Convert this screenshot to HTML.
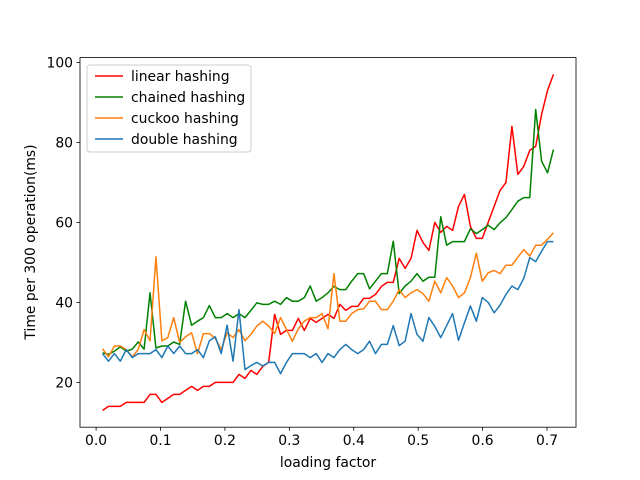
<!DOCTYPE html>
<html><head><meta charset="utf-8"><style>
body{margin:0;background:#fff;}
svg{display:block;font-family:"DejaVu Sans","Liberation Sans",sans-serif;}
</style></head><body>
<svg id="chart" width="640" height="480" viewBox="0 0 640 480" xmlns="http://www.w3.org/2000/svg">
<rect width="640" height="480" fill="#fff"/>
<g id="plot"></g>
<rect x="80" y="57.6" width="496" height="369.6" fill="none" stroke="#000" stroke-width="0.8"/>
<g id="ticks"></g>
<text x="328" y="467" font-size="13.9" text-anchor="middle">loading factor</text>
<text transform="translate(35,242) rotate(-90)" font-size="13.9" text-anchor="middle">Time per 300 operation(ms)</text>
<g id="legend"></g>
</svg>
<script>
const xs=[0.01,0.0192,0.0284,0.0376,0.0468,0.0561,0.0653,0.0745,0.0837,0.0929,0.1021,0.1113,0.1205,0.1297,0.1389,0.1482,0.1574,0.1666,0.1758,0.185,0.1942,0.2034,0.2126,0.2218,0.2311,0.2403,0.2495,0.2587,0.2679,0.2771,0.2863,0.2955,0.3047,0.3139,0.3232,0.3324,0.3416,0.3508,0.36,0.3692,0.3784,0.3876,0.3968,0.4061,0.4153,0.4245,0.4337,0.4429,0.4521,0.4613,0.4705,0.4797,0.4889,0.4982,0.5074,0.5166,0.5258,0.535,0.5442,0.5534,0.5626,0.5718,0.5811,0.5903,0.5995,0.6087,0.6179,0.6271,0.6363,0.6455,0.6547,0.6639,0.6732,0.6824,0.6916,0.7008,0.71];
const linear=[13,14,14,14,15,15,15,15,17,17,15,16,17,17,18,19,18,19,19,20,20,20,20,22,21,23,22,24,25,37,32,33,33,36,33,36,35,36,37,36,39.5,38,39,39,41,41,42,44,45,45,51,48.5,51,58,55,53,60,57.5,59,58,64,67,59,56,56,60,64,68,70,84,72,74,78,79,87,93,97];
const chained=[27.4,27,27.8,28.9,27.8,28.3,30.1,28.3,42.4,28.6,29.1,29.1,30.1,29.5,40.3,34.3,35.3,36.2,39.2,36.2,36.2,37.2,36.2,37.2,36.2,38,39.9,39.5,39.5,40.3,39.5,41.2,40.3,40.3,41.2,44.1,40.3,41.2,42.4,44,43.2,43.2,45.3,47.2,47.2,43.4,45.3,47.2,47.2,55.3,42.2,44.1,45.3,47.2,45.3,46.3,46.3,61.4,54.3,55.2,55.2,55.2,58.4,57.2,58.2,59.3,58.2,59.9,61.2,63.2,65.3,66.2,66.2,88.2,75.3,72.4,78.2];
const cuckoo=[28.4,26.4,29.1,29.1,28.2,26.4,28.2,33.2,30.4,51.4,30.4,31.2,36.2,30,31.4,32.4,27.2,32.2,32.2,31,28.2,32.4,31.2,33.2,30.4,32,34.1,35.3,34.1,32.2,36.2,33.2,30.3,33.4,35.3,36.2,36.2,37.2,33.4,47.2,35.3,35.3,37.2,38.2,38.4,40.3,40.3,38.2,38.2,40.3,43.2,41.2,42.4,43.2,42.2,40.3,45.3,42.4,46.2,44.1,41.2,42.4,46.2,52.3,45.3,47.4,48,47.2,49.3,49.3,51.3,53.2,51.6,54.3,54.3,55.8,57.4];
const dbl=[27.2,25.3,27.2,25.3,28.2,26.2,27.2,27.2,27.2,28.2,26.2,29.1,27.2,29.1,27.2,27.2,28.2,26.2,30.4,31.4,27.2,34.3,25.3,38.2,23.2,24.2,25,24.1,25,25,22.2,25,27.2,27.2,27.2,26.2,27.2,25,27.2,26.2,28.2,29.5,28.2,27.2,28.2,30.3,27.2,29.5,29.5,34.2,29.2,30.3,37.2,32,30.3,36.2,34,31.2,34.2,37.2,30.5,34.9,39.1,35.3,41.2,40,37.4,39.3,42,44.1,43.2,46,51.2,50.2,52.8,55.2,55.2];
const seriesNames=["linear hashing","chained hashing","cuckoo hashing","double hashing"];
const xTicks=[0.0,0.1,0.2,0.3,0.4,0.5,0.6,0.7];
const xTickLabels=["0.0","0.1","0.2","0.3","0.4","0.5","0.6","0.7"];
const yTicks=[20,40,60,80,100];
const yTickLabels=["20","40","60","80","100"];

const NS="http://www.w3.org/2000/svg";
const L=80,R=576,T=57.6,B=427.2;
const X0=-0.025,X1=0.745,Y0=8.8,Y1=101.2;
function sx(v){return L+(v-X0)/(X1-X0)*(R-L);}
function sy(v){return B-(v-Y0)/(Y1-Y0)*(B-T);}
const colors=["#ff0000","#008000","#ff7f0e","#1f77b4"];
const data=[linear,chained,cuckoo,dbl];
const keys=["linear-hashing-line","chained-hashing-line","cuckoo-hashing-line","double-hashing-line"];
const plot=document.getElementById('plot');
for(let s=0;s<4;s++){
  const p=document.createElementNS(NS,'polyline');
  p.setAttribute('points',data[s].map((v,i)=>sx(xs[i]).toFixed(2)+','+sy(v).toFixed(2)).join(' '));
  p.setAttribute('fill','none');p.setAttribute('stroke',colors[s]);p.setAttribute('stroke-width','1.5');
  p.setAttribute('stroke-linejoin','round');
  
  
  plot.appendChild(p);
}
const tk=document.getElementById('ticks');
xTicks.forEach((v,i)=>{
  const x=sx(v);
  const l=document.createElementNS(NS,'line');
  l.setAttribute('x1',x);l.setAttribute('x2',x);l.setAttribute('y1',B);l.setAttribute('y2',B+3.5);l.setAttribute('stroke','#000');l.setAttribute('stroke-width','0.8');
  
  
  tk.appendChild(l);
  const t=document.createElementNS(NS,'text');
  t.setAttribute('x',x);t.setAttribute('y',B+18);t.setAttribute('font-size','13.9');t.setAttribute('text-anchor','middle');
  t.textContent=xTickLabels[i];
  
  
  tk.appendChild(t);
});
yTicks.forEach((v,i)=>{
  const y=sy(v);
  const l=document.createElementNS(NS,'line');
  l.setAttribute('x1',L-3.5);l.setAttribute('x2',L);l.setAttribute('y1',y);l.setAttribute('y2',y);l.setAttribute('stroke','#000');l.setAttribute('stroke-width','0.8');
  
  
  tk.appendChild(l);
  const t=document.createElementNS(NS,'text');
  t.setAttribute('x',L-7);t.setAttribute('y',y+5);t.setAttribute('font-size','13.9');t.setAttribute('text-anchor','end');
  t.textContent=yTickLabels[i];
  
  
  tk.appendChild(t);
});
const lg=document.getElementById('legend');
const box=document.createElementNS(NS,'rect');
box.setAttribute('x',87);box.setAttribute('y',65);box.setAttribute('width',164);box.setAttribute('height',87);box.setAttribute('rx',3);
box.setAttribute('fill','#fff');box.setAttribute('fill-opacity','0.8');box.setAttribute('stroke','#ccc');


lg.appendChild(box);
seriesNames.forEach((n,i)=>{
  const y=76+i*21;
  const l=document.createElementNS(NS,'line');
  l.setAttribute('x1',95);l.setAttribute('x2',123);l.setAttribute('y1',y);l.setAttribute('y2',y);l.setAttribute('stroke',colors[i]);l.setAttribute('stroke-width','1.5');
  
  
  lg.appendChild(l);
  const t=document.createElementNS(NS,'text');
  t.setAttribute('x',131);t.setAttribute('y',y+5);t.setAttribute('font-size','13.9');
  t.textContent=n;
  
  
  lg.appendChild(t);
});
</script>
</body></html>
